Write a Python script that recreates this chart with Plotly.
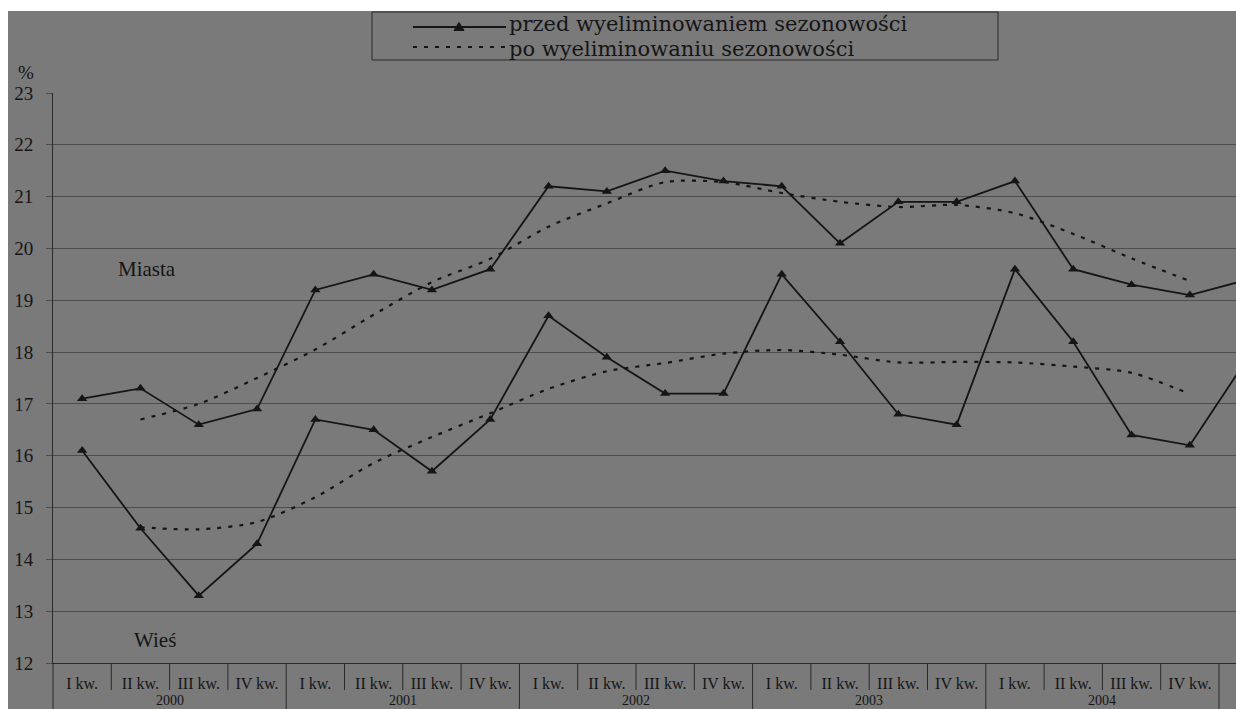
import plotly.graph_objects as go

# --- data -----------------------------------------------------------------
kwartaly = ["I kw.", "II kw.", "III kw.", "IV kw."]
lata = ["2000", "2001", "2002", "2003", "2004"]
etykiety_x = kwartaly * len(lata) + ["I kw."]
pozycje_x = list(range(len(etykiety_x)))

# Miasta (urban), quarterly %
miasta_przed = [17.1, 17.3, 16.6, 16.9, 19.2, 19.5, 19.2, 19.6, 21.2, 21.1, 21.5, 21.3,
                21.2, 20.1, 20.9, 20.9, 21.3, 19.6, 19.3, 19.1, 19.4]
miasta_po = [None, 16.7, 17.0, 17.5, 18.05, 18.72, 19.35, 19.8, 20.42, 20.87, 21.28, 21.28,
             21.07, 20.9, 20.8, 20.84, 20.68, 20.28, 19.81, 19.37, None]

# Wieś (rural), quarterly %
wies_przed = [16.1, 14.6, 13.3, 14.3, 16.7, 16.5, 15.7, 16.7, 18.7, 17.9, 17.2, 17.2,
              19.5, 18.2, 16.8, 16.6, 19.6, 18.2, 16.4, 16.2, 17.9]
wies_po = [None, 14.62, 14.58, 14.72, 15.2, 15.86, 16.36, 16.82, 17.29, 17.63, 17.79, 17.97,
           18.04, 17.95, 17.8, 17.81, 17.8, 17.72, 17.6, 17.19, None]

y_ticks = list(range(12, 24))
nazwy_serii = ["przed wyeliminowaniem sezonowości", "po wyeliminowaniu sezonowości"]

# --- geometry helpers (pixel -> paper) --------------------------------------
W, H = 1236, 709
L, R, T, B = 53, 0, 93, 46
PW, PH = W - L - R, H - T - B
CELL = 58.3
X_RANGE = [-0.5, -0.5 + PW / CELL]


def fx(px):
    return (px - L) / PW


def fy(py):
    return (H - B - py) / PH


INK = "#151515"
GRID = "#4e4e4e"
BG = "rgb(122,122,122)"
SERIF = "Liberation Serif, Times New Roman, serif"
WIDE_SERIF = "DejaVu Serif, Liberation Serif, serif"
DOT = "4px,7px"

fig = go.Figure()

for przed, po in ((miasta_przed, miasta_po), (wies_przed, wies_po)):
    fig.add_trace(go.Scatter(
        x=pozycje_x, y=po, mode="lines", showlegend=False,
        line=dict(color=INK, width=2.2, dash=DOT, shape="spline", smoothing=0.8),
        hoverinfo="skip",
    ))
    fig.add_trace(go.Scatter(
        x=pozycje_x, y=przed, mode="lines+markers", showlegend=False,
        line=dict(color=INK, width=1.8),
        marker=dict(symbol="triangle-up", size=9, color=INK),
        hoverinfo="skip",
    ))

shapes = []
# grey page with white strips at the top and left
shapes.append(dict(type="rect", xref="paper", yref="paper", layer="below",
                   x0=fx(8), x1=fx(W + 5), y0=fy(H + 5), y1=fy(11),
                   fillcolor=BG, line=dict(width=0)))

# category table under the x axis
for i in range(1, len(etykiety_x)):
    koniec_roku = i % 4 == 0
    shapes.append(dict(type="line", xref="x", yref="paper",
                       x0=i - 0.5, x1=i - 0.5, y0=0,
                       y1=fy(H + 5) if koniec_roku else fy(690),
                       line=dict(color="#2a2a2a", width=1)))
# y axis continues through the table
shapes.append(dict(type="line", xref="paper", yref="paper",
                   x0=0, x1=0, y0=0, y1=fy(H + 5),
                   line=dict(color="#2a2a2a", width=1)))

# legend frame and keys
shapes.append(dict(type="rect", xref="paper", yref="paper",
                   x0=fx(372), x1=fx(998), y0=fy(60), y1=fy(12),
                   line=dict(color="#2a2a2a", width=1)))
shapes.append(dict(type="line", xref="paper", yref="paper",
                   x0=fx(413), x1=fx(506), y0=fy(27), y1=fy(27),
                   line=dict(color=INK, width=1.8)))
shapes.append(dict(type="path", xref="paper", yref="paper",
                   xsizemode="pixel", ysizemode="pixel",
                   xanchor=fx(459), yanchor=fy(27),
                   path="M-5,-3.5 L5,-3.5 L0,4.5 Z",
                   fillcolor=INK, line=dict(color=INK, width=1)))
shapes.append(dict(type="line", xref="paper", yref="paper",
                   x0=fx(413), x1=fx(506), y0=fy(47), y1=fy(47),
                   line=dict(color=INK, width=2.2, dash=DOT)))

annotations = []
for tekst, py in zip(nazwy_serii, (24.5, 48.5)):
    annotations.append(dict(text=tekst, xref="paper", yref="paper",
                            x=fx(507), y=fy(py), xanchor="left", yanchor="middle",
                            showarrow=False,
                            font=dict(family=WIDE_SERIF, size=21, color=INK)))

for k, rok in enumerate(lata):
    annotations.append(dict(text=rok, xref="x", yref="paper",
                            x=4 * k + 1.5, y=fy(700), xanchor="center", yanchor="middle",
                            showarrow=False, font=dict(family=SERIF, size=14, color=INK)))

annotations.append(dict(text="%", xref="paper", yref="paper", x=fx(26), y=fy(73),
                        xanchor="center", yanchor="middle", showarrow=False,
                        font=dict(family=SERIF, size=19, color=INK)))
annotations.append(dict(text="Miasta", xref="paper", yref="paper", x=fx(116), y=fy(269),
                        xanchor="left", yanchor="middle", showarrow=False,
                        font=dict(family=SERIF, size=21, color=INK)))
annotations.append(dict(text="Wieś", xref="paper", yref="paper", x=fx(132), y=fy(640),
                        xanchor="left", yanchor="middle", showarrow=False,
                        font=dict(family=SERIF, size=21, color=INK)))

fig.update_layout(
    width=W, height=H,
    margin=dict(l=L, r=R, t=T, b=B, pad=0),
    paper_bgcolor="white",
    plot_bgcolor="rgba(0,0,0,0)",
    showlegend=False,
    shapes=shapes,
    annotations=annotations,
    xaxis=dict(
        range=X_RANGE, tickmode="array", tickvals=pozycje_x, ticktext=etykiety_x,
        showgrid=False, zeroline=False, showline=True, linecolor="#2a2a2a", linewidth=1,
        ticks="", ticklabelstandoff=6, automargin=False,
        tickfont=dict(family=SERIF, size=16, color=INK),
    ),
    yaxis=dict(
        range=[12, 23], tickmode="array", tickvals=y_ticks,
        showgrid=True, gridcolor=GRID, gridwidth=1, zeroline=False,
        showline=True, linecolor="#2a2a2a", linewidth=1,
        ticks="outside", ticklen=6, tickcolor=GRID, ticklabelstandoff=9,
        automargin=False,
        tickfont=dict(family=SERIF, size=19, color=INK),
    ),
)

fig.write_html("out.html")
